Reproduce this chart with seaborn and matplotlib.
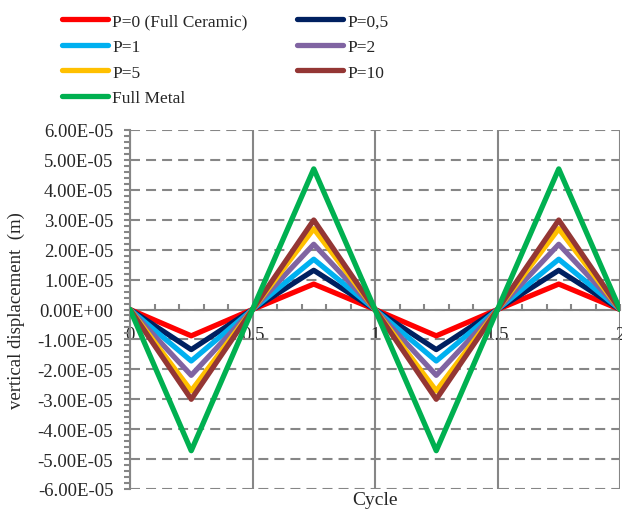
import numpy as np
import pandas as pd
import matplotlib
matplotlib.use("Agg")
import matplotlib.pyplot as plt
import seaborn as sns
from matplotlib.ticker import MultipleLocator, FuncFormatter

# ---- data ----
cycle = [0.0, 0.25, 0.5, 0.75, 1.0, 1.25, 1.5, 1.75, 2.0]
p0   = [0, -0.88e-5, 0, 0.85e-5, 0, -0.88e-5, 0, 0.85e-5, 0]
p05  = [0, -1.34e-5, 0, 1.31e-5, 0, -1.34e-5, 0, 1.31e-5, 0]
p1   = [0, -1.72e-5, 0, 1.68e-5, 0, -1.72e-5, 0, 1.68e-5, 0]
p2   = [0, -2.20e-5, 0, 2.18e-5, 0, -2.20e-5, 0, 2.18e-5, 0]
p5   = [0, -2.72e-5, 0, 2.70e-5, 0, -2.72e-5, 0, 2.70e-5, 0]
p10  = [0, -3.00e-5, 0, 2.99e-5, 0, -3.00e-5, 0, 2.99e-5, 0]
metal = [0, -4.72e-5, 0, 4.70e-5, 0, -4.72e-5, 0, 4.70e-5, 0]

labels = ["P=0 (Full Ceramic)", "P=0,5", "P=1", "P=2", "P=5", "P=10", "Full Metal"]
series = [p0, p05, p1, p2, p5, p10, metal]
colors = ["#FF0000", "#002060", "#00B0F0", "#8064A2", "#FFC000", "#943634", "#00B050"]

sns.set_style("white")
plt.rcParams["font.family"] = ["Liberation Serif", "DejaVu Serif"]

fig = plt.figure(figsize=(6.22, 5.10), dpi=100)
ax = fig.add_axes([130 / 622, 1 - 490 / 510, 490 / 622, 359 / 510])

gray = "#868686"
handles = {}
for lab, vals, col in zip(labels, series, colors):
    sns.lineplot(x=cycle, y=vals, ax=ax, color=col, lw=3.8, label=lab,
                 solid_joinstyle="round", solid_capstyle="round", zorder=3)
    handles[lab] = ax.get_lines()[-1]
ax.get_legend().remove()

ax.set_xlim(0, 2)
ax.set_ylim(-6e-5, 6e-5)

ax.xaxis.set_major_locator(MultipleLocator(0.5))
ax.xaxis.set_minor_locator(MultipleLocator(0.1))
ax.yaxis.set_major_locator(MultipleLocator(1e-5))
ax.yaxis.set_minor_locator(MultipleLocator(0.2e-5))
ax.yaxis.set_major_formatter(FuncFormatter(lambda v, p: f"{v:.2E}"))
ax.xaxis.set_major_formatter(FuncFormatter(lambda v, p: f"{v:g}"))

for s in ["top", "right"]:
    ax.spines[s].set_visible(False)
ax.spines["bottom"].set_position(("data", 0))
for s in ["left", "bottom"]:
    ax.spines[s].set_color(gray)
    ax.spines[s].set_linewidth(1.5)

ax.tick_params(axis="x", which="both", direction="in", length=4, width=1.5,
               color=gray, labelsize=13.5, pad=12, bottom=True)
ax.tick_params(axis="y", which="both", direction="out", length=4, width=1.5,
               color=gray, labelsize=13.5, pad=8, left=True)

ax.grid(axis="y", which="major", color=gray, lw=1.5, ls=(0, (4.8, 2.9)))
ax.grid(axis="x", which="major", color=gray, lw=1.5, ls="-")
ax.set_axisbelow(True)

ax.set_ylabel("vertical displacement  (m)", fontsize=13.5, labelpad=9)
ax.set_xlabel("Cycle", fontsize=14)
ax.xaxis.set_label_coords(0.5, -0.006)

order = ["P=0 (Full Ceramic)", "P=1", "P=5", "Full Metal", "P=0,5", "P=2", "P=10"]
leg = fig.legend([handles[o] for o in order], order, ncol=2, loc="upper left",
                 bbox_to_anchor=(62 / 622, 1 - 14 / 510), frameon=False,
                 fontsize=12.5, handlelength=2.65, handletextpad=0.25,
                 columnspacing=2.85, labelspacing=0.55, borderpad=0,
                 borderaxespad=0)

fig.savefig("out.png", dpi=100)
